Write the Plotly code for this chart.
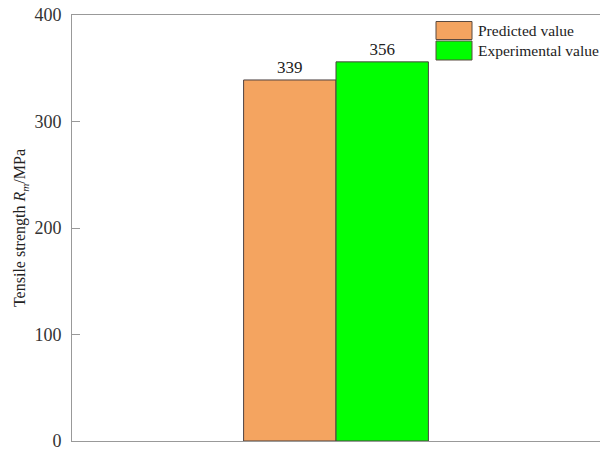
import plotly.graph_objects as go

categories = [""]
series_names = ["Predicted value", "Experimental value"]
predicted = [339]
experimental = [356]
colors = ["#F4A460", "#00FF00"]
y_ticks = [0, 100, 200, 300, 400]

font_family = "Liberation Serif, Times New Roman, serif"

fig = go.Figure()
for name, vals, col in zip(series_names, [predicted, experimental], colors):
    fig.add_trace(go.Bar(
        x=categories, y=vals, name=name,
        marker=dict(color=col, line=dict(color="#4d4040", width=1)),
        text=[str(v) for v in vals], textposition="outside",
        textfont=dict(family=font_family, size=17, color="#222"),
        cliponaxis=False, showlegend=False,
    ))

# custom legend (swatches + labels) in paper coordinates
W, H = 600, 450
ml, mr, mt, mb = 72, 0, 15, 9
pw, ph = W - ml - mr, H - mt - mb
def px(x):
    return (x - ml) / pw
def py(y):
    return 1 - (y - mt) / ph
shapes = []
annotations = []
legend_rows = [(21.5, 39.5), (41, 60)]
for (y0, y1), name, col in zip(legend_rows, series_names, colors):
    shapes.append(dict(type="rect", xref="paper", yref="paper",
                       x0=px(436), x1=px(472), y0=py(y1), y1=py(y0),
                       fillcolor=col, line=dict(color="#5a4a40", width=1)))
    annotations.append(dict(xref="paper", yref="paper", x=px(476), y=py((y0 + y1) / 2),
                            text=name, showarrow=False, xanchor="left", yanchor="middle",
                            font=dict(family=font_family, size=15.5, color="#222")))

fig.update_layout(
    width=W, height=H,
    margin=dict(l=ml, r=mr, t=mt, b=mb),
    plot_bgcolor="white", paper_bgcolor="white",
    barmode="group", bargap=0.65, bargroupgap=0,
    font=dict(family=font_family, color="#333"),
    shapes=shapes, annotations=annotations,
    xaxis=dict(showline=True, linecolor="#999", linewidth=1, mirror=True,
               showticklabels=False, ticks="", showgrid=False, zeroline=False),
    yaxis=dict(range=[0, 400], tickvals=y_ticks, ticks="inside", ticklen=8,
               tickcolor="#999", showline=True, linecolor="#999", linewidth=1,
               showgrid=False, zeroline=False, ticklabelstandoff=6,
               ticklabeloverflow="allow",
               tickfont=dict(family=font_family, size=18, color="#333"),
               title=dict(text="Tensile strength <i>R</i><sub><i>m</i></sub>/MPa",
                          font=dict(family=font_family, size=16, color="#222"),
                          standoff=4)),
)

fig.write_html("out.html")
